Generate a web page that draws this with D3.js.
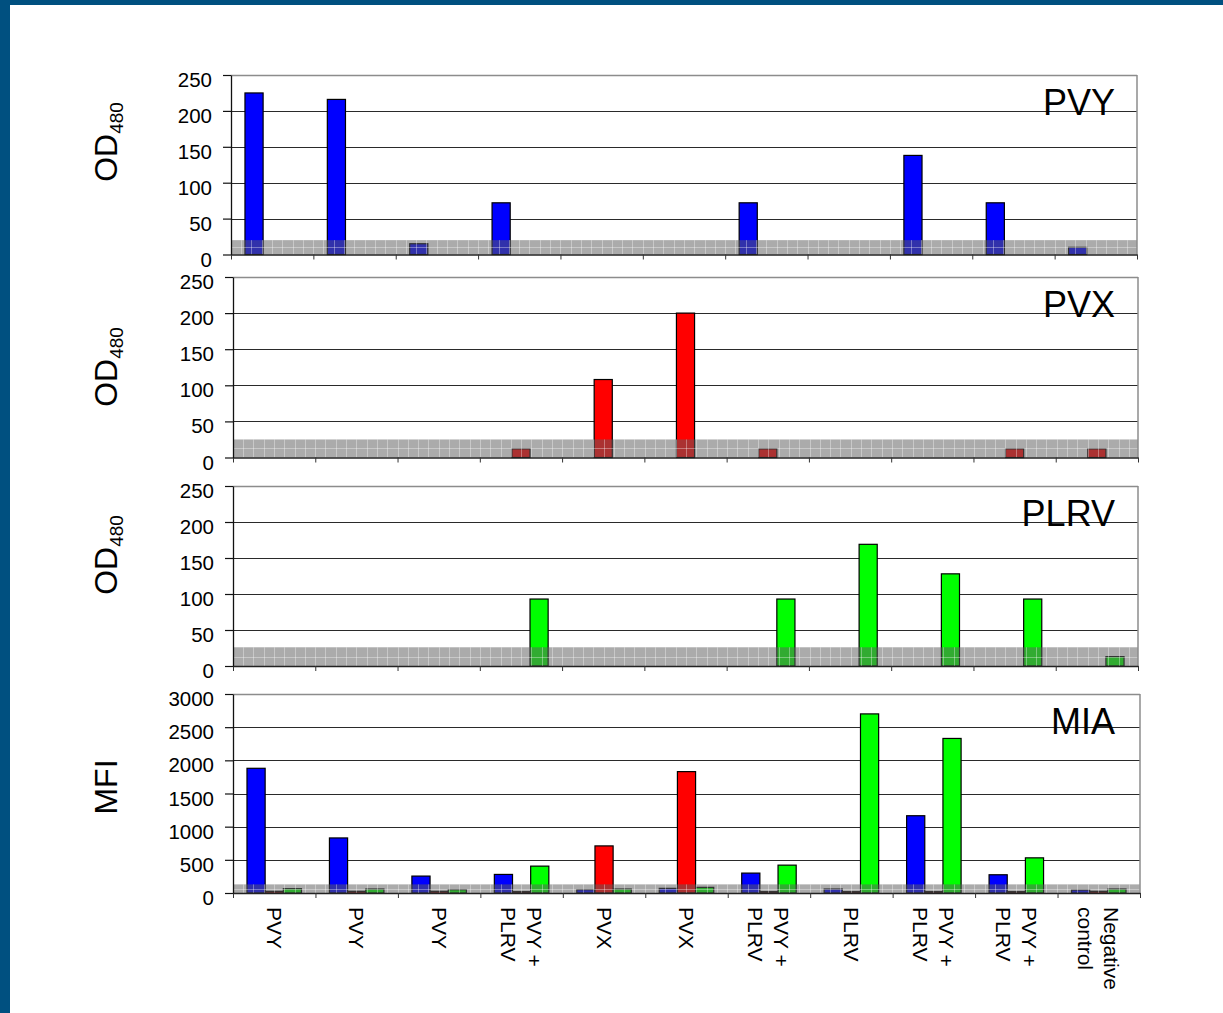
<!DOCTYPE html>
<html>
<head>
<meta charset="utf-8">
<script src="https://cdn.jsdelivr.net/npm/d3@7"></script>
<style>
  html, body { margin: 0; padding: 0; background: #fff; }
  svg { display: block; font-family: "Liberation Sans", Arial, sans-serif; }
</style>
</head>
<body>
<svg id="chart" width="1223" height="1013"></svg>
<script>
// ---- Data ----------------------------------------------------------------
// Sample categories (each entry is one tick label, split into lines)
const categories = [
  ["PVY"], ["PVY"], ["PVY"], ["PVY +", "PLRV"], ["PVX"], ["PVX"],
  ["PVY +", "PLRV"], ["PLRV"], ["PVY +", "PLRV"], ["PVY +", "PLRV"],
  ["Negative", "control"]
];
const seriesNames = ["PVY", "PVX", "PLRV"];
const seriesColors = ["#0000ff", "#ff0000", "#00ff00"];

// ELISA readings (OD480); null = not measured for that sample
const elisaPVY  = [225, 216, 15, 72, null, null, 72, null, 138, 72, 10];
const elisaPVX  = [null, null, null, 12, 108, 200, 12, null, null, 12, 12];
const elisaPLRV = [null, null, null, 93, null, null, 93, 169, 128, 93, 13];

// Multiplex immunoassay (MFI)
const miaPVY  = [1880, 830, 255, 280, 50, 70, 300, 60, 1165, 275, 45];
const miaPVX  = [25, 25, 25, 20, 710, 1830, 20, 20, 20, 20, 25];
const miaPLRV = [65, 60, 50, 405, 60, 85, 420, 2700, 2330, 530, 60];

const odTicks  = [0, 50, 100, 150, 200, 250];
const mfiTicks = [0, 500, 1000, 1500, 2000, 2500, 3000];
const panelTitles = ["PVY", "PVX", "PLRV", "MIA"];
const axisTitles = [["OD", "480"], ["OD", "480"], ["OD", "480"], ["MFI", ""]];
const cutoffs = [20, 25, 26, 130];   // detection threshold band per panel

// Panel table built from the arrays above
const panels = [
  { title: panelTitles[0], axis: axisTitles[0], ticks: odTicks,  cutoff: cutoffs[0], series: [elisaPVY, null, null] },
  { title: panelTitles[1], axis: axisTitles[1], ticks: odTicks,  cutoff: cutoffs[1], series: [null, elisaPVX, null] },
  { title: panelTitles[2], axis: axisTitles[2], ticks: odTicks,  cutoff: cutoffs[2], series: [null, null, elisaPLRV] },
  { title: panelTitles[3], axis: axisTitles[3], ticks: mfiTicks, cutoff: cutoffs[3], series: [miaPVY, miaPVX, miaPLRV] }
];

// ---- Layout --------------------------------------------------------------
const W = 1223, H = 1013;
const frameColor = "#005080";
const boxes = [
  { left: 231, right: 1137, top: 75,  bottom: 254.5, titleY: 142 },
  { left: 233, right: 1138, top: 277, bottom: 457.5, titleY: 367 },
  { left: 233, right: 1138, top: 486, bottom: 666,   titleY: 555 },
  { left: 233, right: 1140, top: 694, bottom: 893,   titleY: 787 }
];
const labelTop = 907;

const svg = d3.select("#chart");
svg.append("rect").attr("width", W).attr("height", H).attr("fill", "#fff");
svg.append("rect").attr("x", 0).attr("y", 0).attr("width", W).attr("height", 5).attr("fill", frameColor);
svg.append("rect").attr("x", 0).attr("y", 0).attr("width", 10).attr("height", H).attr("fill", frameColor);

panels.forEach((panel, pi) => {
  const b = boxes[pi];
  const g = svg.append("g");

  const x0 = d3.scaleBand()
    .domain(d3.range(categories.length))
    .range([b.left, b.right])
    .paddingInner(0).paddingOuter(0);
  const x1 = d3.scaleBand()
    .domain(d3.range(seriesNames.length))
    .range([0, x0.bandwidth()])
    .paddingInner(0).paddingOuter(0.77);
  const y = d3.scaleLinear()
    .domain([0, d3.max(panel.ticks)])
    .range([b.bottom, b.top]);

  // horizontal gridlines
  g.append("g").selectAll("line")
    .data(panel.ticks.filter(t => t > 0 && t < d3.max(panel.ticks)))
    .join("line")
    .attr("x1", b.left).attr("x2", b.right)
    .attr("y1", d => Math.round(y(d)) + 0.5).attr("y2", d => Math.round(y(d)) + 0.5)
    .attr("stroke", "#2a2a2a").attr("stroke-width", 1.2);

  // bars
  panel.series.forEach((vals, si) => {
    if (!vals) return;
    g.append("g").selectAll("rect")
      .data(vals.map((v, i) => ({ v, i })).filter(d => d.v != null))
      .join("rect")
      .attr("x", d => x0(d.i) + x1(si))
      .attr("y", d => y(d.v))
      .attr("width", x1.bandwidth())
      .attr("height", d => y(0) - y(d.v))
      .attr("fill", seriesColors[si])
      .attr("stroke", "#000").attr("stroke-width", 1.2);
  });

  // detection threshold band, drawn over the bars
  const bandTop = y(panel.cutoff);
  const bandH = y(0) - bandTop;
  const band = g.append("g");
  band.append("rect")
    .attr("x", b.left).attr("y", bandTop)
    .attr("width", b.right - b.left).attr("height", bandH)
    .attr("fill", "#5e5e5e").attr("fill-opacity", 0.52);
  // light cell lines of the stippled fill
  const cellXs = d3.range(b.left + 10, b.right, 10.3);
  band.append("g").selectAll("line")
    .data(cellXs)
    .join("line")
    .attr("x1", d => Math.round(d) + 0.5).attr("x2", d => Math.round(d) + 0.5)
    .attr("y1", bandTop).attr("y2", y(0))
    .attr("stroke", "#ffffff").attr("stroke-opacity", 0.35).attr("stroke-width", 1);
  band.append("line")
    .attr("x1", b.left).attr("x2", b.right)
    .attr("y1", Math.round(bandTop + bandH / 2) + 0.5).attr("y2", Math.round(bandTop + bandH / 2) + 0.5)
    .attr("stroke", "#ffffff").attr("stroke-opacity", 0.35).attr("stroke-width", 1);

  // top and right frame of the plot area
  g.append("line").attr("x1", b.left).attr("x2", b.right)
    .attr("y1", b.top + 0.5).attr("y2", b.top + 0.5)
    .attr("stroke", "#8c8c8c").attr("stroke-width", 1.5);
  g.append("line").attr("x1", b.right).attr("x2", b.right)
    .attr("y1", b.top).attr("y2", b.bottom)
    .attr("stroke", "#8c8c8c").attr("stroke-width", 1.5);

  // category axis: boundary ticks
  const xb = d3.scaleLinear().domain([0, categories.length]).range([b.left, b.right]);
  g.append("g")
    .attr("transform", `translate(0,${b.bottom})`)
    .call(d3.axisBottom(xb).tickValues(d3.range(categories.length + 1)).tickSize(5).tickSizeOuter(0).tickFormat(""))
    .call(s => s.select(".domain").attr("stroke", "#222").attr("stroke-width", 1.3))
    .call(s => s.selectAll(".tick line").attr("stroke", "#333"));

  // value axis
  g.append("g")
    .attr("transform", `translate(${b.left},0)`)
    .call(d3.axisLeft(y).tickValues(panel.ticks).tickFormat(d3.format("d"))
      .tickSize(8).tickSizeOuter(0).tickPadding(11))
    .call(s => s.select(".domain").attr("stroke", "#111").attr("stroke-width", 1.3))
    .call(s => s.selectAll(".tick line").attr("stroke", "#111").attr("stroke-width", 1.2))
    .call(s => s.selectAll(".tick text")
      .attr("y", 5)
      .attr("font-family", "Liberation Sans, Arial, sans-serif")
      .attr("font-size", 20.5).attr("fill", "#000"));

  // panel title
  g.append("text")
    .attr("x", 1115).attr("y", b.top + 40)
    .attr("text-anchor", "end")
    .attr("font-size", 36).attr("fill", "#000")
    .text(panel.title);

  // value axis title
  const t = g.append("text")
    .attr("transform", `translate(117,${b.titleY}) rotate(-90)`)
    .attr("text-anchor", "middle")
    .attr("font-size", 32).attr("fill", "#000");
  t.append("tspan").text(panel.axis[0]);
  if (panel.axis[1]) {
    t.append("tspan").attr("font-size", 19).attr("dy", 6).text(panel.axis[1]);
  }

  // category labels under the last panel
  if (pi === panels.length - 1) {
    const lineGap = 26;
    const lg = g.append("g");
    categories.forEach((lines, ci) => {
      const cx = x0(ci) + x0.bandwidth() / 2;
      const txt = lg.append("text")
        .attr("transform", `translate(${cx},${labelTop}) rotate(90)`)
        .attr("font-size", 21).attr("fill", "#000");
      lines.forEach((ln, li) => {
        txt.append("tspan")
          .attr("x", 0)
          .attr("y", (li - (lines.length - 1) / 2) * lineGap)
          .attr("dominant-baseline", "central")
          .text(ln);
      });
    });
  }
});
</script>
</body>
</html>
